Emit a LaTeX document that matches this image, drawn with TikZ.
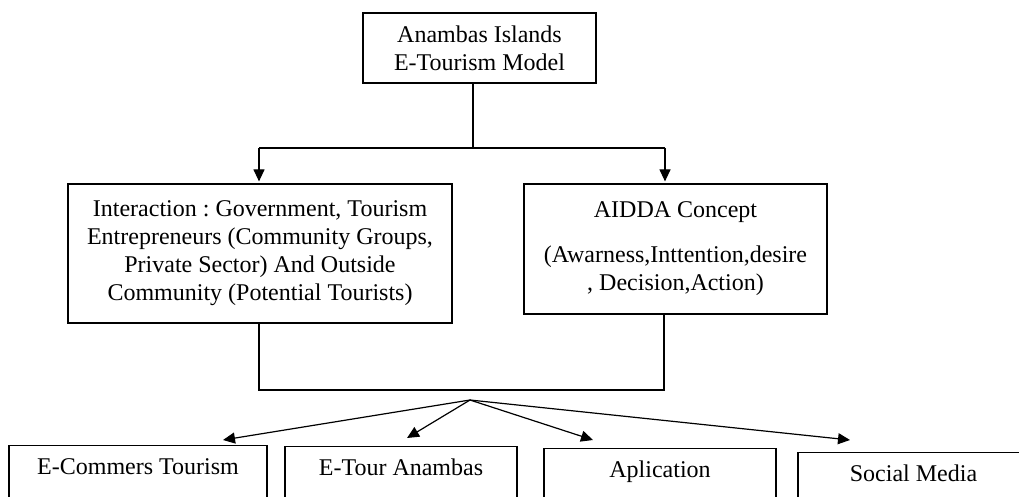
\documentclass[tikz,border=0pt]{standalone}
\usepackage{fontspec}
\setmainfont{Liberation Serif}
\usetikzlibrary{arrows.meta,calc}
\frenchspacing
\begin{document}
\begin{tikzpicture}[x=1pt,y=-1pt,
  box/.style={draw, line width=1.2pt, inner sep=0pt, align=center, font=\fontsize{24}{28}\selectfont\frenchspacing},
  conn/.style={line width=1.2pt},
  arr/.style={conn, -{Triangle[length=12pt,width=11pt]}},
  leaf/.style={box, anchor=north, text height=29pt, text depth=60pt}]
\useasboundingbox (0,0) rectangle (1019,497);
\clip (0,0) rectangle (1019,497);
\node[box, minimum width=233pt, minimum height=70pt] (top) at (479.5,48) {Anambas Islands\\E-Tourism Model};
\node[box, minimum width=384pt, minimum height=139pt] (inter) at (260,253.5) {Interaction : Government, Tourism\\Entrepreneurs (Community Groups,\\Private Sector) And Outside\\Community (Potential Tourists)};
\node[box, minimum width=303pt, minimum height=130pt] (aidda) at (675.5,249) {AIDDA Concept\\[17pt](Awarness,Inttention,desire\\, Decision,Action)};
\node[leaf, minimum width=258pt] (b1) at (138,445) {E-Commers Tourism};
\node[leaf, minimum width=232pt] (b2) at (401,446) {E-Tour Anambas};
\node[leaf, minimum width=232pt] (b3) at (660,448) {Aplication};
\node[leaf, minimum width=231pt] (b4) at (913.5,452) {Social Media};
\coordinate (j0) at (473,148);
\coordinate (j1) at (259,148);
\coordinate (j2) at (665,148);
\coordinate (k1) at (259,390);
\coordinate (k2) at (664,390);
\coordinate (hub) at (470,400);
\coordinate (t1) at (223,440);
\coordinate (t2) at (407,438);
\coordinate (t3) at (593,440);
\coordinate (t4) at (850,440);
\draw[conn] (j0 |- top.south) -- (j0);
\draw[conn] (j1) -- (j2);
\draw[arr] (j1) -- ($(j1 |- inter.north)+(0,-2)$);
\draw[arr] (j2) -- ($(j2 |- aidda.north)+(0,-2)$);
\draw[conn] (k1 |- inter.south) -- (k1) -- (k2) -- (k2 |- aidda.south);
\draw[arr] (hub) -- (t1);
\draw[arr] (hub) -- (t2);
\draw[arr] (hub) -- (t3);
\draw[arr] (hub) -- (t4);
\end{tikzpicture}
\end{document}
